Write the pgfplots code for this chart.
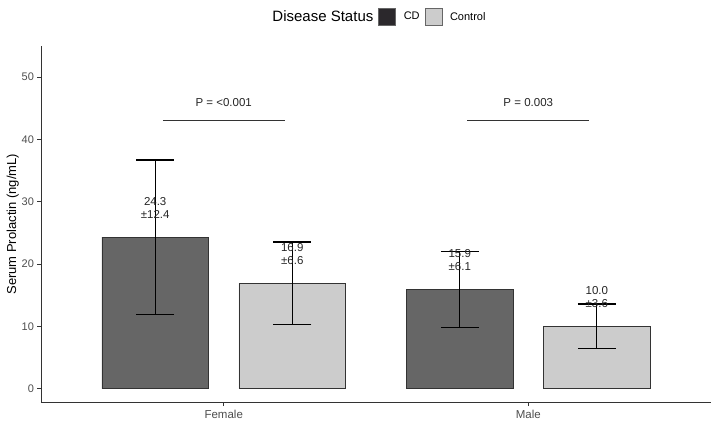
\documentclass[border=0pt]{standalone}
\usepackage{pgfplots}
\pgfplotsset{compat=1.18}
\usepackage{fontspec}
\setmainfont{Liberation Sans}
\definecolor{cdbar}{HTML}{666666}
\definecolor{ctbar}{HTML}{CCCCCC}
\definecolor{cdleg}{HTML}{2B282C}
\definecolor{axgray}{HTML}{333333}
\definecolor{tickgray}{HTML}{4D4D4D}
\begin{document}
\begin{tikzpicture}
\begin{axis}[
  scale only axis,
  width=670pt, height=357pt,
  xmin=0.4, xmax=2.6,
  ymin=-2.25, ymax=55,
  axis lines*=left,
  axis line style={axgray, line width=0.9pt},
  xtick={1,2}, xticklabels={Female,Male},
  ytick={0,10,20,30,40,50},
  xtick pos=left, ytick pos=left,
  tick align=outside,
  major tick length=3.5pt,
  tick style={axgray, line width=0.6pt},
  /pgf/number format/assume math mode=true,
  yticklabel style={font=\fontsize{11}{13}\selectfont, text=tickgray},
  xticklabel style={font=\fontsize{11.5}{13}\selectfont, text=tickgray},
  ylabel={Serum Prolactin (ng/mL)},
  ylabel style={font=\fontsize{13}{15}\selectfont, text=black, xshift=0pt, yshift=-4pt},
  legend style={at={(0.5,1)}, anchor=south, yshift=18pt, draw=none, fill=none,
    legend columns=-1, font=\fontsize{11}{13}\selectfont,
    /tikz/every odd column/.append style={column sep=6pt},
    /tikz/every even column/.append style={column sep=3pt}},
  legend image code/.code={\draw[#1] (0pt,-8.5pt) rectangle (17pt,8.5pt);},
]
\addlegendimage{empty legend}
\addlegendentry{\fontsize{15}{17}\selectfont Disease Status}
\addlegendimage{fill=cdleg, draw=black!60}
\addlegendentry{CD}
\addlegendimage{fill=ctbar, draw=black!60}
\addlegendentry{Control}

\addplot[ybar, bar width=0.35, bar shift=0pt, fill=cdbar, draw=axgray, line width=0.6pt,
  forget plot,
  error bars/.cd, y dir=both, y explicit,
  error bar style={black, line width=1.4pt},
  error mark options={rotate=90, mark size=19pt, black, line width=1.4pt}]
  table[x=x, y=y, y error=e] {
x y e
0.775 24.3 12.4
1.775 15.9 6.1
};
\addplot[ybar, bar width=0.35, bar shift=0pt, fill=ctbar, draw=axgray, line width=0.6pt,
  forget plot,
  error bars/.cd, y dir=both, y explicit,
  error bar style={black, line width=1.4pt},
  error mark options={rotate=90, mark size=19pt, black, line width=1.4pt}]
  table[x=x, y=y, y error=e] {
x y e
1.225 16.9 6.6
2.225 10.0 3.6
};

\begin{scope}[every node/.style={font=\fontsize{11.5}{13.5}\selectfont, text=black!85, align=center}]
\node at (axis cs:0.775,29.0) {24.3\\±12.4};
\node at (axis cs:1.225,21.6) {16.9\\±6.6};
\node at (axis cs:1.775,20.6) {15.9\\±6.1};
\node at (axis cs:2.225,14.7) {10.0\\±3.6};
\node at (axis cs:1,45.9) {P = <0.001};
\node at (axis cs:2,45.9) {P = 0.003};
\end{scope}
\draw[axgray, line width=0.8pt] (axis cs:0.8,43.1) -- (axis cs:1.2,43.1);
\draw[axgray, line width=0.8pt] (axis cs:1.8,43.1) -- (axis cs:2.2,43.1);

\coordinate (ll) at (rel axis cs:0,0);
\coordinate (ur) at (rel axis cs:1,1);
\end{axis}
\path[use as bounding box] ([shift={(-41pt,-25.3pt)}]ll) rectangle ([shift={(9pt,45.7pt)}]ur);
\end{tikzpicture}
\end{document}
